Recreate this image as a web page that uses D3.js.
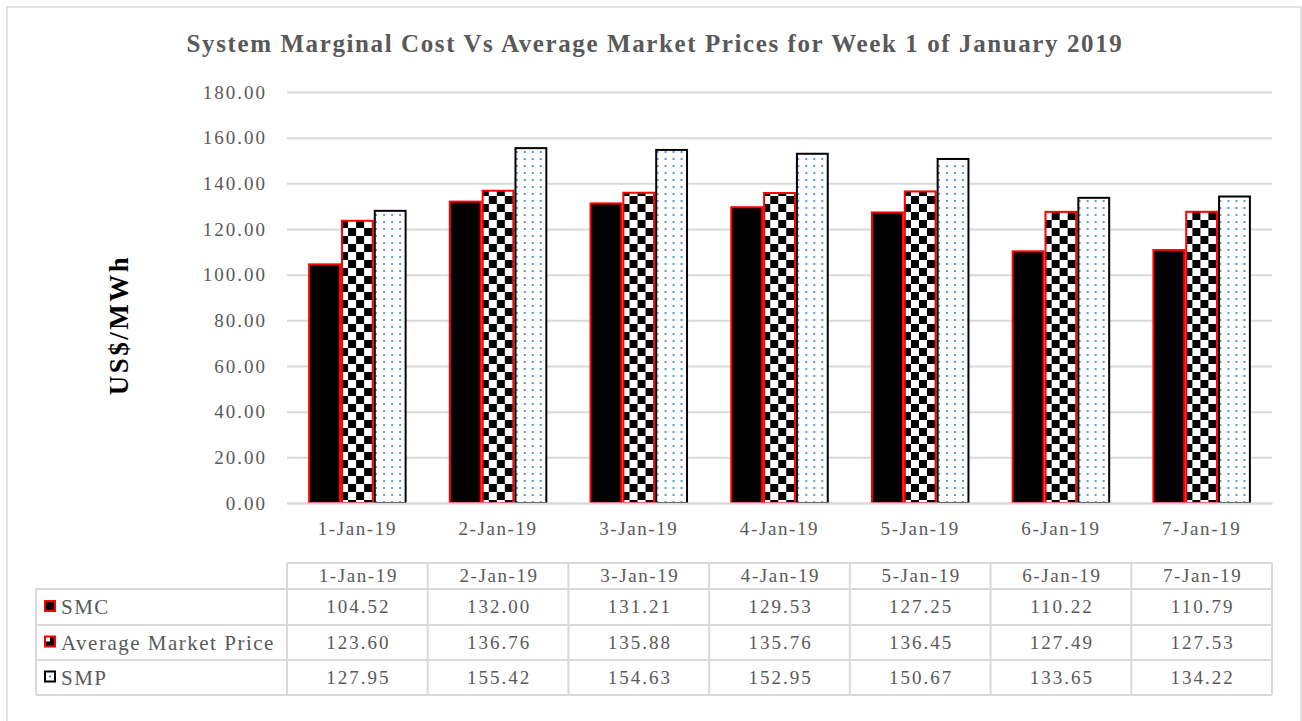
<!DOCTYPE html>
<html>
<head>
<meta charset="utf-8">
<script src="https://cdn.jsdelivr.net/npm/d3@7"></script>
<style>
    body { margin: 0; background: #fff; }
    #chart { width: 1302px; height: 721px; }
    text { font-family: "Liberation Serif", "Times New Roman", serif; }
</style>
</head>
<body>
<div id="chart"></div>
<script>
//Datos
const fechas = ['1-Jan-19', '2-Jan-19', '3-Jan-19', '4-Jan-19', '5-Jan-19', '6-Jan-19', '7-Jan-19'];
const series = ['SMC', 'Average Market Price', 'SMP'];
const smc = [104.52, 132.00, 131.21, 129.53, 127.25, 110.22, 110.79];
const amp = [123.60, 136.76, 135.88, 135.76, 136.45, 127.49, 127.53];
const smp = [127.95, 155.42, 154.63, 152.95, 150.67, 133.65, 134.22];
const yTicks = [0, 20, 40, 60, 80, 100, 120, 140, 160, 180];

//Colores fijos
const COLOR_TEXT = '#595959',
COLOR_GRID = '#d9d9d9',
COLOR_RED = '#ff0000',
COLOR_DOT = '#5b9bd5';

let valores = { 'SMC': smc, 'Average Market Price': amp, 'SMP': smp };

let data = fechas.map(function(f, i) {
    return { fecha: f, values: series.map(function(s) { return { key: s, value: valores[s][i] }; }) };
});

let margin = {top: 92, right: 30, bottom: 218, left: 287},
    width = 1302 - margin.left - margin.right,
    height = 721 - margin.top - margin.bottom;

let root = d3.select('#chart')
    .append('svg')
        .attr('width', 1302)
        .attr('height', 721);

//Patrones
let defs = root.append('defs');

let checker = defs.append('pattern')
    .attr('id', 'checker')
    .attr('patternUnits', 'userSpaceOnUse')
    .attr('width', 16).attr('height', 16);
checker.append('rect').attr('width', 16).attr('height', 16).attr('fill', '#fff');
checker.append('rect').attr('width', 8).attr('height', 8).attr('fill', '#000');
checker.append('rect').attr('x', 8).attr('y', 8).attr('width', 8).attr('height', 8).attr('fill', '#000');

let dots = defs.append('pattern')
    .attr('id', 'dots')
    .attr('patternUnits', 'userSpaceOnUse')
    .attr('width', 8).attr('height', 7);
dots.append('rect').attr('width', 8).attr('height', 7).attr('fill', '#fff');
dots.append('rect').attr('x', 3).attr('y', 3).attr('width', 2).attr('height', 2).attr('fill', COLOR_DOT);

let fills = { 'SMC': '#000', 'Average Market Price': 'url(#checker)', 'SMP': 'url(#dots)' };
let strokes = { 'SMC': COLOR_RED, 'Average Market Price': COLOR_RED, 'SMP': '#000' };

//Borde exterior
root.append('rect')
    .attr('x', 7).attr('y', 7)
    .attr('width', 1294).attr('height', 720)
    .attr('fill', 'none')
    .attr('stroke', COLOR_GRID)
    .attr('stroke-width', 1.5);

//Titulo
root.append('text')
    .attr('x', 655).attr('y', 52)
    .attr('text-anchor', 'middle')
    .style('font-size', '25px')
    .style('letter-spacing', '1.6px')
    .style('font-weight', '700')
    .style('fill', COLOR_TEXT)
    .text('System Marginal Cost Vs Average Market Prices for Week 1 of January 2019');

//Eje Y titulo
root.append('text')
    .attr('transform', 'translate(128,325) rotate(-90)')
    .attr('text-anchor', 'middle')
    .style('font-size', '27px')
    .style('letter-spacing', '2.5px')
    .style('font-weight', '700')
    .style('fill', '#000')
    .text('US$/MWh');

let svg = root.append('g')
    .attr('transform', 'translate(' + margin.left + ',' + margin.top + ')');

let y = d3.scaleLinear()
    .domain([0, 180])
    .range([height, 0]);

let x = d3.scaleBand()
    .domain(fechas)
    .range([0, width])
    .paddingInner(0.3)
    .paddingOuter(0.15);

let xSub = d3.scaleBand()
    .domain(series)
    .range([0, x.bandwidth()]);

//Grid + ticks
let yAxis = function(g) {
    g.call(d3.axisLeft(y).tickValues(yTicks).tickFormat(d3.format('.2f')).tickSize(-width).tickPadding(20));
    g.call(function(g) { g.select('.domain').remove(); });
    g.selectAll('.tick line').attr('stroke', COLOR_GRID).attr('stroke-width', 2);
    g.selectAll('.tick text')
        .style('font-size', '19px')
        .style('letter-spacing', '2px')
        .style('fill', COLOR_TEXT)
        .style('font-family', '"Liberation Serif", serif');
};

svg.append('g').call(yAxis);

//Barras
svg.append('g')
    .selectAll('g')
    .data(data)
    .enter()
    .append('g')
    .attr('transform', function(d) { return 'translate(' + x(d.fecha) + ',0)'; })
    .selectAll('rect')
    .data(function(d) { return d.values; })
    .enter()
    .append('rect')
    .attr('x', function(d) { return xSub(d.key) + 1; })
    .attr('y', function(d) { return y(d.value); })
    .attr('width', xSub.bandwidth() - 2)
    .attr('height', function(d) { return height - y(d.value); })
    .attr('fill', function(d) { return fills[d.key]; })
    .attr('stroke', function(d) { return strokes[d.key]; })
    .attr('stroke-width', 2);

//Eje X
let xAxis = function(g) {
    g.call(d3.axisBottom(x).tickSize(0).tickPadding(19));
    g.select('.domain').attr('stroke', COLOR_GRID).attr('stroke-width', 2);
    g.selectAll('.tick text')
        .style('font-size', '19px')
        .style('letter-spacing', '1.6px')
        .style('fill', COLOR_TEXT)
        .style('font-family', '"Liberation Serif", serif');
};

svg.append('g')
    .attr('transform', 'translate(0,' + height + ')')
    .call(xAxis);

//Tabla de datos
let step = width / fechas.length;
let tTop = 563, rowH = [26, 36, 35, 35], tLeft = 36;
let rowY = [tTop];
rowH.forEach(function(h, i) { rowY.push(rowY[i] + h); });

let tabla = root.append('g')
    .attr('stroke', COLOR_GRID)
    .attr('stroke-width', 2)
    .attr('fill', 'none');

//Lineas horizontales
rowY.forEach(function(yy, i) {
    tabla.append('line')
        .attr('x1', i == 0 ? margin.left : tLeft)
        .attr('x2', margin.left + width)
        .attr('y1', yy).attr('y2', yy);
});
//Lineas verticales
d3.range(fechas.length + 1).forEach(function(i) {
    tabla.append('line')
        .attr('x1', margin.left + i * step).attr('x2', margin.left + i * step)
        .attr('y1', tTop).attr('y2', rowY[rowY.length - 1]);
});
tabla.append('line')
    .attr('x1', tLeft).attr('x2', tLeft)
    .attr('y1', rowY[1]).attr('y2', rowY[rowY.length - 1]);

//Cabecera
root.append('g')
    .selectAll('text')
    .data(fechas)
    .enter()
    .append('text')
    .attr('x', function(d, i) { return margin.left + (i + 0.5) * step + 1; })
    .attr('y', (rowY[0] + rowY[1]) / 2 + 6)
    .attr('text-anchor', 'middle')
    .style('font-size', '19px')
    .style('letter-spacing', '1.6px')
    .style('fill', COLOR_TEXT)
    .text(function(d) { return d; });

//Filas
series.forEach(function(s, r) {
    let cy = (rowY[r + 1] + rowY[r + 2]) / 2;
    let fila = root.append('g');

    //Leyenda
    fila.append('rect')
        .attr('x', 45).attr('y', cy - 6)
        .attr('width', 10).attr('height', 10)
        .attr('fill', s == 'SMP' ? '#fff' : '#000')
        .attr('stroke', strokes[s])
        .attr('stroke-width', 2);
    if (s == 'Average Market Price') {
        fila.append('rect').attr('x', 46).attr('y', cy - 5).attr('width', 4).attr('height', 4).attr('fill', '#fff');
    }
    if (s == 'SMP') {
        fila.append('rect').attr('x', 49).attr('y', cy - 2).attr('width', 2).attr('height', 2).attr('fill', COLOR_DOT);
    }

    fila.append('text')
        .attr('x', 61).attr('y', cy + 7)
        .style('font-size', '21px')
        .style('letter-spacing', '1.5px')
        .style('fill', COLOR_TEXT)
        .text(s);

    fila.selectAll('.val')
        .data(valores[s])
        .enter()
        .append('text')
        .attr('x', function(d, i) { return margin.left + (i + 0.5) * step + 1; })
        .attr('y', cy + 6)
        .attr('text-anchor', 'middle')
        .style('font-size', '19px')
        .style('letter-spacing', '2px')
        .style('fill', COLOR_TEXT)
        .text(function(d) { return d.toFixed(2); });
});
</script>
</body>
</html>
